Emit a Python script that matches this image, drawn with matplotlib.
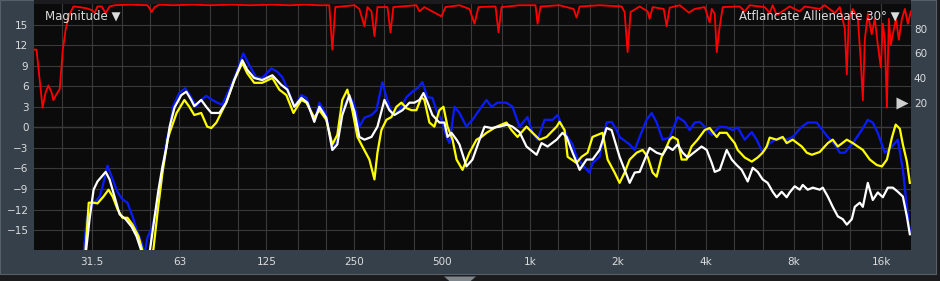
import matplotlib
matplotlib.use("Agg")
import matplotlib.pyplot as plt
from matplotlib import transforms
from matplotlib.patches import Rectangle, Polygon
from matplotlib.ticker import NullFormatter

# --- magnitude traces (Hz, dB) ---
blue_freq = [29.3, 30.3, 31.75, 33.6, 34.6, 35.7, 37.2, 38.7, 40.2, 41.8,
             43.5, 44.9, 46.7, 47.8, 49.0, 50.9, 53.8, 56.9, 58.3, 59.7,
             62.9, 65.9, 69.1, 71.9, 74.8, 77.8, 81.6, 84.9, 88.3, 93.3,
             98.6, 104.2, 109.2, 115.4, 121.0, 130, 136.4, 141.9, 147.5, 155.9,
             164.8, 171.4, 182.5, 189.9, 200.6, 210.4, 218.8, 227.6, 240.5, 250.4,
             260.4, 271, 286.5, 297.8, 312.3, 322.3, 338, 357.3, 377.5, 395.8,
             411.5, 428, 445.3, 463.3, 478, 497.5, 517.6, 530, 551.5, 573.5,
             606, 635.5, 682.5, 710, 738.5, 774, 831, 871.5, 921, 980.5,
             1021, 1062, 1122, 1195, 1243, 1293, 1346, 1400, 1444, 1515,
             1600, 1638, 1732, 1830, 1904, 1981, 2028, 2196, 2284, 2376,
             2510, 2612, 2716, 2848, 3010, 3206, 3388, 3524, 3666, 3814,
             3968, 4196, 4468, 4720, 4952, 5148, 5440, 5752, 5980, 6268,
             6624, 7168, 7576, 7944, 8536, 8944, 9608, 9832, 10480, 11072,
             11520, 11984, 12768, 13696, 14368, 14944, 15544, 16432, 17376, 18208,
             18944, 19552, 20016]
blue_db = [-20, -13.4, -11.3, -10.1, -8.1, -5.6, -7.6, -9.5, -10.5, -11.0,
           -13.0, -14.9, -16.8, -18.5, -16.0, -14.5, -10.1, -1.8, -0.4, 2.9,
           5.0, 5.7, 4.4, 3.1, 4.0, 4.6, 4.0, 3.6, 3.3, 5.5,
           7.9, 10.8, 9.1, 7.3, 7.2, 8.6, 8.1, 7.3, 5.7, 3.0,
           4.7, 4.3, 1.1, 3.6, 1.8, -3.3, -1.8, 2.5, 4.6, 3.3,
           0.1, 1.4, 1.8, 2.5, 6.6, 4.4, 1.8, 2.5, 4.4, 5.2,
           5.7, 6.6, 4.4, 4.3, 2.5, 1.1, -1.4, -2.3, 3.0, 2.1,
           0.1, 1.1, 3.0, 4.0, 3.0, 3.6, 3.6, 3.0, 0.1, 1.5,
           -0.8, -1.8, 1.1, 1.1, 1.8, 0.1, -1.4, -2.5, -4.3, -5.5,
           -6.6, -5.2, -4.3, 0.7, 0.8, -0.4, -1.4, -2.5, -3.3, -1.4,
           1.1, 2.1, 0.7, -1.8, -1.5, 1.5, 0.8, -0.4, 0.7, 0.8,
           0.1, -1.1, 0.1, 0.0, -0.4, 0.0, -1.8, -0.7, -1.8, -3.7,
           -2.3, -1.5, -1.8, -1.4, 0.1, 0.7, 0.7, 0.1, -1.4, -2.5,
           -3.7, -3.7, -2.3, -0.4, 1.1, 0.7, -0.8, -3.7, -2.8, -1.8,
           -6.2, -11.6, -15.2]

white_freq = [29.8, 31.0, 32.0, 33.0, 35.2, 36.3, 37.8, 39.3, 41.2, 43.2,
              44.9, 46.7, 49.4, 51.8, 53.4, 55.1, 56.9, 58.3, 60.6, 63.9,
              66.5, 69.1, 70.8, 74.8, 77.8, 81.0, 86.3, 91.1, 97.1, 103.4,
              107.5, 113.6, 121.0, 131.1, 140.6, 147.5, 155.9, 164.8, 172.8, 182.5,
              189.9, 200.6, 210.4, 218.8, 227.6, 240.5, 250.4, 260.4, 271, 286.5,
              300.3, 317.3, 330, 343.3, 365.8, 386.5, 402, 418.3, 431.8, 445.3,
              463.3, 489.5, 509.5, 522, 538.5, 560.5, 573.5, 606, 635.5, 672,
              699, 738.5, 786.5, 838, 871.5, 921, 973, 1054, 1096, 1149,
              1234, 1293, 1335, 1400, 1480, 1563, 1638, 1732, 1830, 1904,
              2028, 2110, 2196, 2284, 2376, 2472, 2570, 2716, 2848, 2962,
              3082, 3206, 3336, 3468, 3666, 3872, 4032, 4196, 4296, 4468,
              4720, 4912, 5108, 5312, 5572, 5796, 6028, 6268, 6520, 6784,
              7000, 7284, 7576, 7756, 8072, 8400, 8600, 8944, 9312, 9832,
              10072, 10480, 10896, 11344, 11792, 12176, 12664, 12968, 13488, 13816,
              14368, 14944, 15544, 16176, 16832, 17504, 18208, 18944, 19552, 20016]
white_db = [-20, -13.4, -9.1, -7.9, -6.5, -7.6, -10.2, -12.7, -13.4, -14.5,
            -15.9, -18.1, -19.3, -13.0, -9.1, -5.7, -2.8, 0.1, 2.9, 4.7,
            5.2, 4.0, 3.1, 4.0, 3.0, 2.1, 2.1, 3.6, 6.9, 9.8,
            8.4, 7.2, 6.9, 7.6, 6.2, 5.5, 3.0, 4.3, 3.6, 0.8,
            3.0, 1.4, -3.3, -2.5, 1.8, 4.7, 2.3, -1.4, -1.8, -1.4,
            0.1, 4.0, 2.5, 1.8, 2.5, 3.6, 3.6, 4.0, 5.0, 3.7,
            1.8, 0.7, 0.7, -1.4, -0.8, -1.8, -2.5, -5.7, -4.7, -1.8,
            0.1, -0.1, 0.1, 0.4, 0.1, -0.7, -2.8, -4.0, -2.3, -2.8,
            -1.8, -0.8, -1.4, -3.7, -6.2, -4.7, -4.7, -3.3, -0.1, -0.4,
            -4.3, -6.2, -8.1, -6.6, -6.5, -4.7, -3.0, -3.7, -4.0, -2.8,
            -3.3, -2.5, -3.7, -4.4, -3.6, -2.8, -3.3, -5.2, -6.5, -6.2,
            -3.3, -4.7, -5.5, -6.2, -7.9, -5.9, -6.5, -7.6, -8.1, -9.4,
            -10.2, -9.4, -10.2, -9.5, -8.6, -9.1, -8.4, -9.1, -8.8, -9.1,
            -8.8, -10.1, -11.6, -13.0, -13.4, -14.2, -13.4, -11.6, -11.0, -11.6,
            -8.1, -10.6, -9.5, -10.2, -8.8, -8.8, -9.4, -10.1, -13.0, -15.6]

yellow_freq = [29.8, 30.8, 32.0, 33.0, 34.6, 36.0, 37.2, 38.7, 40.2, 41.8,
               43.5, 45.6, 47.1, 49.8, 51.3, 53.0, 55.1, 57.4, 58.3, 61.6,
               65.5, 68.1, 70.8, 74.8, 78.4, 81.0, 84.3, 91.1, 97.1, 103.4,
               107.5, 113.6, 121.0, 131.1, 138.5, 146.4, 154.8, 164.8, 171.4, 182.5,
               189.9, 200.6, 210.4, 218.8, 227.6, 236.8, 246.3, 256.5, 266.8, 281.8,
               293.3, 300.3, 309.8, 322.3, 335.3, 348.8, 362.8, 377.5, 392.8, 408.3,
               424.8, 434.8, 452.5, 470.5, 489.5, 505.5, 522, 543, 560.5, 587.5,
               620.5, 656, 682.5, 710, 768, 831, 864.5, 906.5, 973, 1021,
               1079, 1140, 1234, 1263, 1314, 1346, 1444, 1503, 1576, 1638,
               1705, 1773, 1845, 1950, 2028, 2110, 2196, 2320, 2432, 2530,
               2632, 2716, 2826, 2940, 3010, 3082, 3206, 3308, 3440, 3578,
               3752, 3968, 4128, 4228, 4364, 4468, 4720, 4832, 5028, 5148,
               5440, 5752, 6028, 6268, 6472, 6624, 7000, 7344, 7576, 7944,
               8536, 8880, 9240, 9832, 10480, 10896, 11344, 12176, 12768, 13816,
               14592, 15424, 16064, 16704, 17376, 17900, 18496, 18944, 19552, 20016]
yellow_db = [-20, -11.0, -11.0, -11.1, -10.1, -9.1, -10.1, -12.0, -13.2, -13.2,
             -14.2, -15.9, -18.1, -19.5, -17.8, -12.4, -6.6, -1.8, -0.8, 2.1,
             4.0, 3.0, 1.8, 2.1, 0.1, -0.1, 0.7, 3.6, 6.9, 9.4,
             7.9, 6.5, 6.5, 7.2, 5.5, 4.7, 2.1, 4.0, 3.6, 1.4,
             2.5, 1.1, -2.5, -1.1, 4.0, 5.5, 2.5, -1.4, -2.8, -4.7,
             -7.6, -3.7, -0.4, 1.1, 1.5, 3.0, 3.6, 2.8, 2.5, 2.5,
             4.4, 4.0, 0.7, 0.1, 2.5, 3.0, 0.1, -1.8, -4.7, -6.2,
             -3.7, -1.8, -1.4, -0.8, 0.1, 0.7, -0.4, -1.4, 0.1, -0.8,
             -1.8, -1.4, 0.1, 0.8, -0.4, -4.3, -5.2, -4.3, -3.7, -1.4,
             -1.1, -0.8, -4.7, -6.6, -8.1, -6.6, -4.7, -3.7, -3.3, -4.3,
             -6.6, -7.2, -4.3, -2.8, -1.8, -1.4, -1.8, -4.7, -4.7, -2.8,
             -1.8, -0.4, -0.1, -0.7, -1.4, -0.8, -0.8, -1.4, -2.3, -3.3,
             -4.4, -5.0, -4.4, -3.7, -2.8, -1.5, -1.8, -1.4, -2.3, -1.8,
             -2.8, -3.7, -4.0, -3.6, -2.3, -1.8, -2.8, -1.8, -2.3, -3.3,
             -4.7, -5.5, -5.7, -4.7, -1.5, 0.4, -0.2, -2.5, -5.0, -8.1]

# --- coherence trace (Hz, %) on the right-hand scale ---
coh_freq = [20.0, 20.4, 20.9, 21.4, 21.9, 22.4, 23.0, 23.3, 23.9, 24.5,
            25.1, 25.7, 26.3, 27.3, 28.6, 30.3, 31.6, 32.3, 33.0, 34.1,
            35.2, 36.3, 37.8, 42.5, 49.0, 50.6, 51.8, 53.8, 60, 70,
            80, 95, 110, 130, 150, 170, 189.9, 205.4, 210.4, 215.4,
            250.4, 260.4, 271, 277.5, 286.5, 293.3, 300.3, 325, 332.8, 340.5,
            408.3, 418.3, 434.8, 497.5, 513.5, 573.5, 620.5, 645.5, 666.5, 762,
            780.5, 799, 921, 1045, 1062, 1087, 1263, 1411, 1444, 1480,
            1732, 2060, 2110, 2160, 2212, 2376, 2530, 2570, 2632, 2872,
            2940, 3010, 3260, 3500, 3666, 3968, 4128, 4196, 4296, 4364,
            4468, 4576, 5232, 5440, 5660, 6368, 6624, 6784, 7000, 7756,
            8400, 8736, 9832, 10232, 11072, 11520, 11984, 12176, 12368, 12768,
            13280, 13584, 13816, 14032, 14368, 14824, 15184, 15544, 15920, 16176,
            16432, 16704, 16960, 17232, 17504, 17936, 18352, 18800, 19248, 19712,
            20176]
coh_pct = [63, 63, 39, 16, 28, 34, 28, 22, 27, 31,
           63, 80, 90, 98, 97.5, 96.5, 95, 93, 98, 98,
           92.5, 98, 99, 99.5, 99, 93.5, 97.5, 99.5, 99, 99.5,
           99, 99.5, 99, 99.5, 99, 99.5, 99, 99, 63, 97.5,
           99, 96, 82, 97.5, 94, 74, 97.5, 97.5, 77, 97.5,
           99, 94, 97.5, 90, 97.5, 99, 96, 84, 97.5, 98,
           77, 97.5, 99, 99, 84, 98, 99, 96, 89, 98,
           99, 98, 93.5, 61, 93.5, 98, 94, 88, 97.5, 96,
           82, 97, 99, 93, 96, 97.5, 85, 96, 92, 61,
           82, 97.5, 98, 94, 99, 97.5, 92.7, 99, 91, 98,
           94, 98, 96, 99, 92.7, 97.5, 80, 43, 88, 96,
           88, 55, 22, 71, 92, 75.5, 88, 67, 48.6, 84,
           71, 16, 88, 67, 75.5, 88, 71, 88, 96, 84,
           94]

label_freqs = [31.5, 63, 125, 250, 500, 1000, 2000, 4000, 8000, 16000]
label_text = ["31.5", "63", "125", "250", "500", "1k", "2k", "4k", "8k", "16k"]
grid_freqs = [25, 31.5, 40, 50, 63, 80, 100, 125, 160, 200, 250, 315, 400, 500,
              630, 800, 1000, 1250, 1600, 2000, 2500, 3150, 4000, 5000, 6300,
              8000, 10000, 12500, 16000]
db_ticks = [-15, -12, -9, -6, -3, 0, 3, 6, 9, 12, 15]
coh_ticks = [20, 40, 60, 80]

W, H = 940.0, 281.0
TXT = "#dcdcdc"


def box(x0, y0, x1, y1):
    """Pixel rectangle (top-left origin) -> figure fraction rect."""
    return [x0 / W, 1 - y1 / H, (x1 - x0) / W, (y1 - y0) / H]


fig = plt.figure(figsize=(9.4, 2.81), dpi=100, facecolor="#1b1b1d")

# slate frame behind everything
bg = fig.add_axes([0, 0, 1, 1], zorder=-10)
bg.set_xlim(0, W)
bg.set_ylim(H, 0)
bg.axis("off")
bg.add_patch(Rectangle((0, 0), 936, 274, facecolor="#35404b",
                       edgecolor="#56606a", linewidth=0.8))
bg.add_patch(Rectangle((34, 0), 877, 4, facecolor="#1b1b1d", edgecolor="none"))
bg.add_patch(Polygon([(444, 276.5), (476, 276.5), (460, 290)], closed=True,
                     facecolor="#80868c", edgecolor="none", clip_on=False))

ax = fig.add_axes(box(34, 4, 911, 250))
ax.set_facecolor("#0b0b0b")
ax.set_xscale("log")
ax.set_xlim(20, 20200)
ax.set_ylim(-17.9, 18)
ax.set_xticks(label_freqs)
ax.set_xticklabels(label_text)
ax.set_xticks(grid_freqs, minor=True)
ax.xaxis.set_minor_formatter(NullFormatter())
ax.set_yticks(db_ticks)
ax.tick_params(which="both", length=0, colors=TXT, labelsize=7.5)
ax.tick_params(axis="x", pad=5)
ax.tick_params(axis="y", pad=4)
ax.grid(which="both", color="#3a3a3a", linewidth=0.8)
ax.axhline(0, color="#555555", linewidth=0.9, zorder=1)
for s in ax.spines.values():
    s.set_visible(False)

ax.plot(blue_freq, blue_db, color="#0a1cff", lw=1.6, zorder=3)
ax.plot(yellow_freq, yellow_db, color="#ffff00", lw=1.6, zorder=4)
ax.plot(white_freq, white_db, color="#ffffff", lw=1.6, zorder=5)

ax2 = ax.twinx()
ax2.set_ylim(-17.9 / 18 * 100, 100)
ax2.set_yticks(coh_ticks)
ax2.tick_params(length=0, colors=TXT, labelsize=7.5, pad=2)
for s in ax2.spines.values():
    s.set_visible(False)
ax2.plot(coh_freq, coh_pct, color="#ff0000", lw=1.3, zorder=2)

# little grey handle at the coherence threshold
trans = transforms.blended_transform_factory(ax2.transAxes, ax2.transData)
ax2.plot([0.9895], [20], marker=">", ms=9, color="#cfcfcf", mec="none",
         transform=trans, clip_on=False, zorder=6)

ax2.text(0.0125, 0.951, "Magnitude \u25BC", transform=ax2.transAxes,
         color=TXT, fontsize=8.5, ha="left", va="center", zorder=10)
ax2.text(0.9875, 0.951, "Atflancate Allieneate 30\u00b0 \u25BC",
         transform=ax2.transAxes, color=TXT, fontsize=8.5,
         ha="right", va="center", zorder=10)

fig.savefig("out.png", dpi=100, facecolor=fig.get_facecolor())
plt.close(fig)
